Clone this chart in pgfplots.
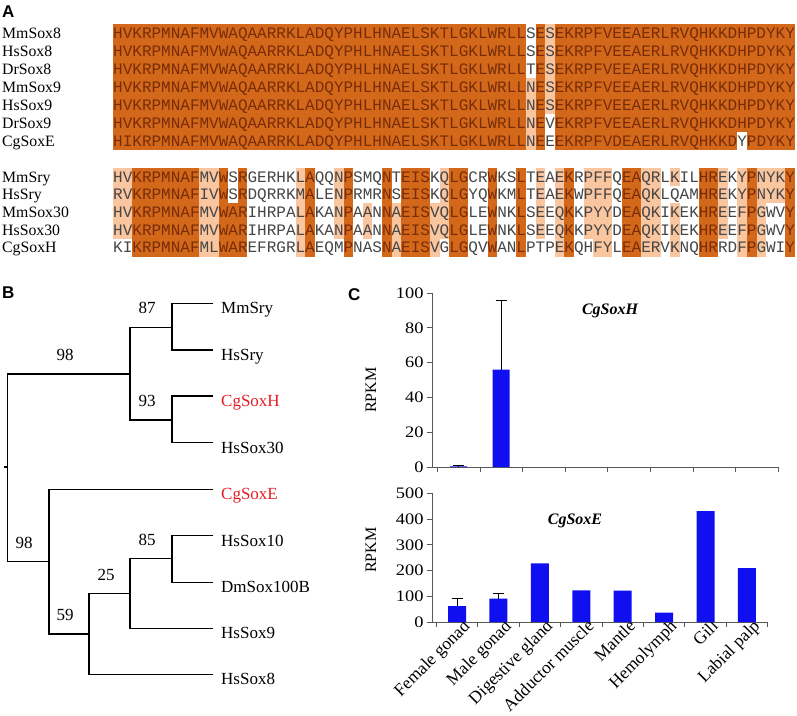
\documentclass[border=0pt]{standalone}
\usepackage{pgfplots}
\pgfplotsset{compat=1.18}
\usepackage{fontspec}
\setmainfont{Liberation Serif}
\newfontfamily\mono{Liberation Mono}
\newfontfamily\arial{Liberation Sans}
\newfontfamily\wideserif[FakeStretch=1.15]{Liberation Serif}
\definecolor{dk}{RGB}{212,104,26}
\definecolor{lt}{RGB}{250,198,160}
\definecolor{dkt}{RGB}{120,45,8}
\definecolor{gt}{RGB}{70,70,70}
\definecolor{barblue}{RGB}{15,15,240}
\definecolor{treered}{RGB}{228,30,36}
\newcommand{\D}[1]{\textcolor{dkt}{#1}}
\newcommand{\G}[1]{\textcolor{gt}{#1}}
\newcommand{\fs}[1]{\fontsize{#1bp}{#1bp}\selectfont}
\newcommand{\cb}[5]{\addplot[draw=none,fill=#5,forget plot] coordinates {(#1,#3) (#2,#3) (#2,#4) (#1,#4)} --cycle;}
\begin{document}
\begin{tikzpicture}
\useasboundingbox (0,0) rectangle (797bp,-716bp);
% ---------------- alignment (panel A) ----------------
\begin{axis}[at={(113bp,0bp)}, anchor=north west, scale only axis, width=682bp, height=716bp,
  xmin=0, xmax=71, ymin=0, ymax=716, y dir=reverse, hide axis, clip=false]
% group 1 (SoxE)
\cb{0}{43}{24}{150}{dk}
\cb{44}{45}{24}{150}{dk}
\cb{46}{65}{24}{150}{dk}
\cb{65}{66}{24}{132}{dk}
\cb{66}{71}{24}{150}{dk}
\cb{43}{44}{78}{150}{lt}
\cb{45}{46}{24}{114}{lt}
% group 2
\cb{0}{2}{168}{238.8}{lt}
\cb{2}{9}{168}{256.5}{dk}
\cb{9}{11}{168}{256.5}{lt}
\cb{11}{12}{168}{256.5}{dk}
\cb{12}{13}{203.4}{256.5}{dk}
\cb{13}{14}{168}{256.5}{dk}
\cb{19}{20}{168}{256.5}{lt}
\cb{20}{21}{168}{256.5}{dk}
\cb{23}{24}{168}{238.8}{lt}
\cb{24}{25}{168}{256.5}{dk}
\cb{26}{27}{203.4}{238.8}{lt}
\cb{28}{29}{168}{256.5}{dk}
\cb{29}{30}{203.4}{256.5}{lt}
\cb{30}{33}{168}{256.5}{dk}
\cb{33}{34}{203.4}{256.5}{lt}
\cb{34}{35}{168}{238.8}{lt}
\cb{35}{37}{168}{256.5}{dk}
\cb{39}{40}{168}{256.5}{dk}
\cb{42}{43}{168}{256.5}{dk}
\cb{44}{45}{168}{238.8}{lt}
\cb{46}{47}{168}{256.5}{lt}
\cb{47}{48}{168}{256.5}{dk}
\cb{49}{50}{168}{238.8}{lt}
\cb{50}{52}{168}{256.5}{lt}
\cb{53}{55}{168}{256.5}{dk}
\cb{55}{57}{168}{256.5}{lt}
\cb{58}{59}{168}{185.7}{lt}
\cb{58}{59}{203.4}{256.5}{lt}
\cb{61}{63}{168}{256.5}{dk}
\cb{63}{64}{168}{238.8}{lt}
\cb{65}{66}{168}{256.5}{lt}
\cb{66}{67}{168}{256.5}{dk}
\cb{67}{68}{168}{256.5}{lt}
\cb{68}{70}{168}{203.4}{lt}
\cb{70}{71}{168}{256.5}{dk}
\begin{scope}[every node/.style={anchor=base west, inner sep=0pt, font=\mono\fs{16}}]
\node[text=dkt] at (axis cs:0,38.3) {HVKRPMNAFMVWAQAARRKLADQYPHLHNAELSKTLGKLWRLL\G{S}E\G{S}EKRPFVEEAERLRVQHKKDHPDYKY};
\node[text=dkt] at (axis cs:0,56.3) {HVKRPMNAFMVWAQAARRKLADQYPHLHNAELSKTLGKLWRLL\G{S}E\G{S}EKRPFVEEAERLRVQHKKDHPDYKY};
\node[text=dkt] at (axis cs:0,74.3) {HVKRPMNAFMVWAQAARRKLADQYPHLHNAELSKTLGKLWRLL\G{T}E\G{S}EKRPFVEEAERLRVQHKKDHPDYKY};
\node[text=dkt] at (axis cs:0,92.3) {HVKRPMNAFMVWAQAARRKLADQYPHLHNAELSKTLGKLWRLL\G{N}E\G{S}EKRPFVEEAERLRVQHKKDHPDYKY};
\node[text=dkt] at (axis cs:0,110.3) {HVKRPMNAFMVWAQAARRKLADQYPHLHNAELSKTLGKLWRLL\G{N}E\G{S}EKRPFVEEAERLRVQHKKDHPDYKY};
\node[text=dkt] at (axis cs:0,128.3) {HVKRPMNAFMVWAQAARRKLADQYPHLHNAELSKTLGKLWRLL\G{N}E\G{V}EKRPFVEEAERLRVQHKKDHPDYKY};
\node[text=dkt] at (axis cs:0,146.3) {HIKRPMNAFMVWAQAARRKLADQYPHLHNAELSKTLGKLWRLL\G{N}E\G{E}EKRPFVDEAERLRVQHKKD\G{Y}PDYKY};
\node[text=gt] at (axis cs:0,182.1) {HV\D{KRPMNAF}MV\D{W}S\D{R}GERHKL\D{A}QQN\D{P}SMQ\D{N}T\D{EIS}KQ\D{LG}CR\D{W}KS\D{L}TEAE\D{K}RPFFQ\D{EA}QRLKIL\D{HR}EKY\D{P}NYK\D{Y}};
\node[text=gt] at (axis cs:0,199.8) {RV\D{KRPMNAF}IV\D{W}S\D{R}DQRRKM\D{A}LEN\D{P}RMR\D{N}S\D{EIS}KQ\D{LG}YQ\D{W}KM\D{L}TEAE\D{K}WPFFQ\D{EA}QKLQAM\D{HR}EKY\D{P}NYK\D{Y}};
\node[text=gt] at (axis cs:0,217.5) {HV\D{KRPMNAF}MV\D{WAR}IHRPAL\D{A}KAN\D{P}AAN\D{N}A\D{EIS}VQ\D{LG}LE\D{W}NK\D{L}SEEQ\D{K}KPYYD\D{EA}QKIKEK\D{HR}EEF\D{P}GWV\D{Y}};
\node[text=gt] at (axis cs:0,235.2) {HV\D{KRPMNAF}MV\D{WAR}IHRPAL\D{A}KAN\D{P}AAN\D{N}A\D{EIS}VQ\D{LG}LE\D{W}NK\D{L}SEEQ\D{K}KPYYD\D{EA}QKIKEK\D{HR}EEF\D{P}GWV\D{Y}};
\node[text=gt] at (axis cs:0,252.9) {KI\D{KRPMNAF}ML\D{WAR}EFRGRL\D{A}EQM\D{P}NAS\D{N}A\D{EIS}VG\D{LG}QV\D{W}AN\D{L}PTPE\D{K}QHFYL\D{EA}ERVKNQ\D{HR}RDF\D{P}GWI\D{Y}};
\end{scope}
\end{axis}
% ---------------- canvas: labels and tree (panel B) ----------------
\begin{axis}[at={(0bp,0bp)}, anchor=north west, scale only axis, width=797bp, height=716bp,
  xmin=0, xmax=797, ymin=0, ymax=716, y dir=reverse, hide axis, clip=false]
\addplot[black, line width=1.5bp] coordinates {(213,303.3) (172,303.3) (172,350) (213,350)};
\addplot[black, line width=1.5bp] coordinates {(172,327.3) (130,327.3) (130,420) (172,420)};
\addplot[black, line width=1.5bp] coordinates {(213,396) (172,396) (172,442.7) (213,442.7)};
\addplot[black, line width=1.5bp] coordinates {(130,374) (7.3,374) (7.3,561.7) (49,561.7)};
\addplot[black, line width=1.5bp] coordinates {(213,489.3) (49,489.3) (49,634) (89,634)};
\addplot[black, line width=1.5bp] coordinates {(130,593.3) (89,593.3) (89,674.3) (213,674.3)};
\addplot[black, line width=1.5bp] coordinates {(172,558.7) (130,558.7) (130,628.3) (213,628.3)};
\addplot[black, line width=1.5bp] coordinates {(213,535.7) (172,535.7) (172,582.3) (213,582.3)};
\addplot[black, line width=1.5bp] coordinates {(4,467) (7.3,467)};
% panel letters
\node[anchor=base west, inner sep=0pt, font=\arial\bfseries\fs{17}] at (axis cs:2,17.5) {A};
\node[anchor=base west, inner sep=0pt, font=\arial\bfseries\fs{17}] at (axis cs:2,298) {B};
\node[anchor=base west, inner sep=0pt, font=\arial\bfseries\fs{17}] at (axis cs:348,300) {C};
% alignment names
\begin{scope}[every node/.style={anchor=base west, inner sep=0pt, font=\fs{15.8}}]
\node at (axis cs:2,38.2) {MmSox8};
\node at (axis cs:2,56.2) {HsSox8};
\node at (axis cs:2,74.2) {DrSox8};
\node at (axis cs:2,92.2) {MmSox9};
\node at (axis cs:2,110.2) {HsSox9};
\node at (axis cs:2,128.2) {DrSox9};
\node at (axis cs:2,146.2) {CgSoxE};
\node at (axis cs:2,182) {MmSry};
\node at (axis cs:2,199.8) {HsSry};
\node at (axis cs:2,217.5) {MmSox30};
\node at (axis cs:2,235.2) {HsSox30};
\node at (axis cs:2,252.9) {CgSoxH};
\end{scope}
% tree leaves
\begin{scope}[every node/.style={anchor=base west, inner sep=0pt, font=\fs{17}}]
\node at (axis cs:221,313.9) {MmSry};
\node at (axis cs:221,360.6) {HsSry};
\node[text=treered] at (axis cs:221,406.6) {CgSoxH};
\node at (axis cs:221,453.3) {HsSox30};
\node[text=treered] at (axis cs:221,499.9) {CgSoxE};
\node at (axis cs:221,546.3) {HsSox10};
\node at (axis cs:221,592.9) {DmSox100B};
\node at (axis cs:221,638.9) {HsSox9};
\node at (axis cs:221,684.9) {HsSox8};
\end{scope}
% bootstrap values
\begin{scope}[every node/.style={anchor=base, inner sep=0pt, font=\fs{17}}]
\node at (axis cs:147,313.3) {87};
\node at (axis cs:65,360) {98};
\node at (axis cs:147,406.7) {93};
\node at (axis cs:24,548) {98};
\node at (axis cs:147,545) {85};
\node at (axis cs:106,580) {25};
\node at (axis cs:65,620.7) {59};
\end{scope}
% panel C texts
\node[rotate=90, font=\fs{16}, inner sep=0pt] at (axis cs:371,390) {RPKM};
\node[rotate=90, font=\fs{16}, inner sep=0pt] at (axis cs:371,550) {RPKM};
\node[font=\bfseries\itshape\fs{16}, inner sep=0pt] at (axis cs:610,311) {CgSoxH};
\node[font=\bfseries\itshape\fs{16}, inner sep=0pt] at (axis cs:575,521) {CgSoxE};
\end{axis}
% ---------------- panel C top: CgSoxH ----------------
\begin{axis}[at={(432bp,-467bp)}, anchor=south west, scale only axis, width=346.3bp, height=174bp,
  xmin=-0.624, xmax=7.5, ymin=0, ymax=100, enlargelimits=false,
  axis x line=bottom, axis y line=left, axis line style={-, draw=black!65, line width=0.8bp},
  ytick={0,20,40,60,80,100}, xtick={-0.5,0.5,1.5,2.5,3.5,4.5,5.5,6.5,7.5}, xticklabels={},
  tick align=outside, major tick length=5bp, tick style={black!65, line width=0.8bp},
  /pgf/number format/assume math mode=true,
  yticklabel style={font=\wideserif\fs{16}},
  ybar, bar width=17bp, clip=false]
\addplot[fill=barblue, draw=none, bar shift=0pt,
  error bars/.cd, y dir=plus, y explicit,
  error bar style={black, line width=0.9bp},
  error mark options={black, rotate=90, mark size=5.5bp, line width=0.9bp}]
  coordinates {(0,0.4) +- (0,0.4) (1,56) +- (0,39.5)};
\end{axis}
% ---------------- panel C bottom: CgSoxE ----------------
\begin{axis}[at={(432bp,-622bp)}, anchor=south west, scale only axis, width=335.7bp, height=128.7bp,
  xmin=-0.604, xmax=7.5, ymin=0, ymax=500, enlargelimits=false,
  axis x line=bottom, axis y line=left, axis line style={-, draw=black!65, line width=0.8bp},
  ytick={0,100,200,300,400,500}, xtick={-0.5,0.5,1.5,2.5,3.5,4.5,5.5,6.5,7.5}, xticklabels={},
  tick align=outside, major tick length=5bp, tick style={black!65, line width=0.8bp},
  /pgf/number format/assume math mode=true,
  yticklabel style={font=\wideserif\fs{16}},
  extra x ticks={0,1,2,3,4,5,6,7},
  extra x tick labels={Female gonad,Male gonad,Digestive gland,Adductor muscle,Mantle,Hemolymph,Gill,Labial palp},
  extra x tick style={major tick length=0pt, xticklabel style={rotate=45, anchor=north east, font=\fs{17.5}, inner sep=1bp, xshift=7bp}},
  ybar, bar width=18bp, clip=false]
\addplot[fill=barblue, draw=none, bar shift=0pt,
  error bars/.cd, y dir=plus, y explicit,
  error bar style={black, line width=0.9bp},
  error mark options={black, rotate=90, mark size=5.5bp, line width=0.9bp}]
  coordinates {(0,62) +- (0,28) (1,91) +- (0,19)};
\addplot[fill=barblue, draw=none, bar shift=0pt]
  coordinates {(2,228) (3,123) (4,122) (5,36) (6,431) (7,209)};
\end{axis}
\end{tikzpicture}
\end{document}
